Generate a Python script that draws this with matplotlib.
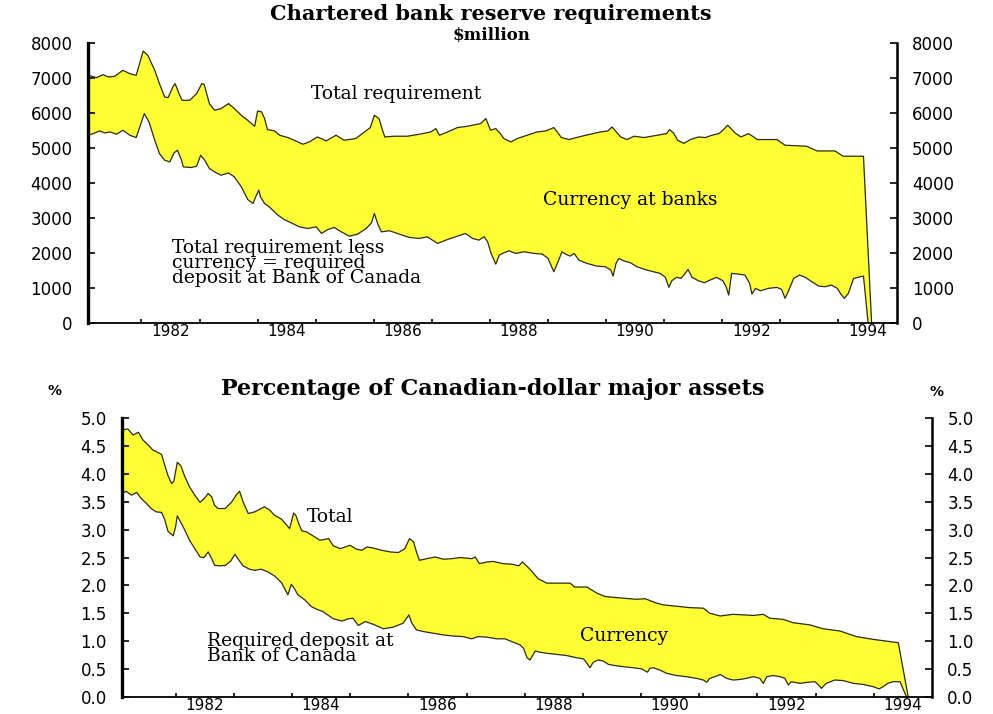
import numpy as np
import matplotlib.pyplot as plt
from matplotlib.ticker import FixedLocator, FixedFormatter, FormatStrFormatter

# ---- top panel: chartered bank reserve requirements, $million ----
total_dates = [1981.08, 1981.23, 1981.34, 1981.43, 1981.54, 1981.68, 1981.80, 1981.91,
               1982.03, 1982.11, 1982.23, 1982.31, 1982.40, 1982.46, 1982.54, 1982.58,
               1982.66, 1982.70, 1982.83, 1982.95, 1983.04, 1983.08, 1983.17, 1983.26,
               1983.37, 1983.50, 1983.60, 1983.72, 1983.83, 1983.95, 1984.00, 1984.07,
               1984.12, 1984.17, 1984.29, 1984.38, 1984.52, 1984.63, 1984.78, 1984.89,
               1985.03, 1985.18, 1985.35, 1985.49, 1985.69, 1985.84, 1985.94, 1986.01,
               1986.09, 1986.15, 1986.19, 1986.35, 1986.58, 1986.78, 1986.98, 1987.07,
               1987.13, 1987.27, 1987.44, 1987.61, 1987.84, 1987.93, 1988.01, 1988.10,
               1988.17, 1988.24, 1988.36, 1988.47, 1988.64, 1988.81, 1988.96, 1989.10,
               1989.17, 1989.23, 1989.36, 1989.53, 1989.70, 1989.90, 1990.03, 1990.10,
               1990.16, 1990.25, 1990.36, 1990.48, 1990.65, 1990.88, 1991.04, 1991.09,
               1991.16, 1991.23, 1991.34, 1991.45, 1991.59, 1991.71, 1991.82, 1991.94,
               1992.01, 1992.09, 1992.15, 1992.22, 1992.32, 1992.45, 1992.54, 1992.60,
               1992.94, 1993.08, 1993.45, 1993.63, 1993.94, 1994.08, 1994.43, 1994.57]
total_req = [7080, 7011, 7097, 7030, 7050, 7220, 7125, 7077,
             7771, 7648, 7220, 6840, 6457, 6440, 6743, 6840,
             6505, 6362, 6362, 6554, 6840, 6820, 6268, 6077,
             6125, 6268, 6125, 5934, 5791, 5620, 6057, 6030,
             5840, 5525, 5486, 5363, 5297, 5220, 5106, 5172,
             5314, 5200, 5363, 5220, 5268, 5457, 5582, 5934,
             5840, 5506, 5314, 5335, 5335, 5391, 5457, 5553,
             5363, 5457, 5582, 5620, 5697, 5840, 5506, 5553,
             5429, 5268, 5172, 5268, 5363, 5457, 5486, 5582,
             5429, 5297, 5240, 5314, 5382, 5457, 5486, 5600,
             5486, 5314, 5240, 5335, 5297, 5363, 5410, 5525,
             5429, 5220, 5130, 5240, 5314, 5297, 5363, 5410,
             5506, 5648, 5553, 5429, 5314, 5410, 5314, 5240,
             5240, 5077, 5049, 4914, 4914, 4763, 4763, 0]

deposit_dates = [1981.08, 1981.17, 1981.28, 1981.37, 1981.46, 1981.57, 1981.68, 1981.80,
                 1981.91, 1982.05, 1982.13, 1982.23, 1982.31, 1982.40, 1982.49, 1982.56,
                 1982.62, 1982.69, 1982.72, 1982.86, 1982.95, 1983.02, 1983.09, 1983.17,
                 1983.26, 1983.37, 1983.50, 1983.60, 1983.72, 1983.83, 1983.92, 1983.98,
                 1984.02, 1984.05, 1984.12, 1984.20, 1984.35, 1984.46, 1984.58, 1984.72,
                 1984.86, 1985.01, 1985.10, 1985.21, 1985.32, 1985.44, 1985.58, 1985.72,
                 1985.87, 1985.96, 1986.01, 1986.07, 1986.13, 1986.27, 1986.44, 1986.61,
                 1986.78, 1986.92, 1987.10, 1987.27, 1987.44, 1987.58, 1987.70, 1987.81,
                 1987.90, 1987.96, 1988.02, 1988.10, 1988.16, 1988.24, 1988.33, 1988.44,
                 1988.59, 1988.76, 1988.90, 1989.00, 1989.05, 1989.10, 1989.16, 1989.24,
                 1989.30, 1989.38, 1989.45, 1989.53, 1989.67, 1989.84, 1989.99, 1990.08,
                 1990.12, 1990.17, 1990.22, 1990.30, 1990.42, 1990.53, 1990.70, 1990.93,
                 1991.02, 1991.08, 1991.13, 1991.21, 1991.29, 1991.36, 1991.41, 1991.48,
                 1991.59, 1991.69, 1991.79, 1991.90, 1992.01, 1992.07, 1992.11, 1992.16,
                 1992.28, 1992.39, 1992.47, 1992.51, 1992.57, 1992.66, 1992.79, 1992.94,
                 1993.02, 1993.08, 1993.14, 1993.23, 1993.33, 1993.43, 1993.54, 1993.66,
                 1993.77, 1993.88, 1993.98, 1994.04, 1994.10, 1994.17, 1994.26, 1994.43,
                 1994.51]
deposit_req = [5360, 5410, 5486, 5429, 5457, 5391, 5506, 5363,
               5297, 5982, 5743, 5220, 4840, 4648, 4600, 4857,
               4934, 4648, 4457, 4440, 4477, 4791, 4648, 4411,
               4314, 4220, 4286, 4171, 3886, 3525, 3411, 3648,
               3791, 3600, 3411, 3314, 3077, 2950, 2857, 2743,
               2696, 2743, 2554, 2668, 2725, 2600, 2477, 2534,
               2696, 2857, 3125, 2820, 2600, 2630, 2534, 2440,
               2411, 2457, 2268, 2382, 2477, 2554, 2411, 2363,
               2457, 2314, 1982, 1677, 1934, 2000, 2057, 1982,
               2030, 1982, 1963, 1840, 1648, 1457, 1697, 2028,
               1963, 1906, 1982, 1791, 1697, 1620, 1600, 1506,
               1334, 1697, 1840, 1772, 1715, 1600, 1506, 1411,
               1297, 1011, 1200, 1297, 1268, 1411, 1525, 1297,
               1200, 1143, 1220, 1297, 1200, 1011, 791, 1411,
               1392, 1363, 1125, 820, 982, 915, 982, 1011,
               953, 697, 915, 1268, 1363, 1297, 1172, 1049,
               1030, 1077, 982, 820, 697, 840, 1268, 1334,
               0]

# ---- bottom panel: percentage of Canadian-dollar major assets ----
pct_total_dates = [1981.08, 1981.18, 1981.27, 1981.36, 1981.44, 1981.53, 1981.61, 1981.69,
                   1981.76, 1981.81, 1981.87, 1981.93, 1981.97, 1982.03, 1982.09, 1982.16,
                   1982.24, 1982.33, 1982.42, 1982.50, 1982.56, 1982.62, 1982.67, 1982.73,
                   1982.85, 1982.96, 1983.04, 1983.10, 1983.16, 1983.25, 1983.36, 1983.47,
                   1983.53, 1983.62, 1983.70, 1983.82, 1983.96, 1984.03, 1984.07, 1984.12,
                   1984.17, 1984.25, 1984.36, 1984.48, 1984.63, 1984.71, 1984.83, 1985.00,
                   1985.11, 1985.20, 1985.29, 1985.40, 1985.54, 1985.69, 1985.83, 1985.94,
                   1986.02, 1986.09, 1986.14, 1986.19, 1986.32, 1986.46, 1986.60, 1986.75,
                   1986.89, 1987.09, 1987.15, 1987.22, 1987.35, 1987.46, 1987.63, 1987.78,
                   1987.90, 1987.96, 1988.09, 1988.23, 1988.38, 1988.78, 1988.86, 1989.07,
                   1989.24, 1989.38, 1989.69, 1989.92, 1990.07, 1990.27, 1990.38, 1990.84,
                   1991.07, 1991.18, 1991.36, 1991.58, 1991.93, 1992.10, 1992.21, 1992.44,
                   1992.61, 1992.90, 1993.13, 1993.42, 1993.70, 1993.99, 1994.42, 1994.59]
pct_total = [4.79, 4.81, 4.70, 4.75, 4.61, 4.52, 4.43, 4.39,
             4.35, 4.17, 3.97, 3.83, 3.87, 4.21, 4.15, 3.95,
             3.77, 3.62, 3.49, 3.57, 3.65, 3.59, 3.44, 3.38,
             3.38, 3.49, 3.62, 3.69, 3.50, 3.29, 3.32, 3.38,
             3.41, 3.35, 3.26, 3.19, 3.02, 3.30, 3.25, 3.10,
             2.98, 2.96, 2.89, 2.81, 2.84, 2.71, 2.66, 2.72,
             2.65, 2.63, 2.69, 2.67, 2.63, 2.60, 2.59, 2.66,
             2.84, 2.78, 2.60, 2.45, 2.48, 2.51, 2.47, 2.48,
             2.50, 2.48, 2.51, 2.39, 2.42, 2.43, 2.39, 2.38,
             2.35, 2.42, 2.29, 2.12, 2.04, 2.04, 1.97, 1.97,
             1.86, 1.80, 1.77, 1.75, 1.76, 1.68, 1.65, 1.60,
             1.59, 1.50, 1.45, 1.48, 1.46, 1.48, 1.41, 1.39,
             1.33, 1.29, 1.22, 1.18, 1.08, 1.03, 0.97, 0.0]

pct_deposit_dates = [1981.08, 1981.15, 1981.24, 1981.33, 1981.41, 1981.50, 1981.58, 1981.67,
                     1981.76, 1981.81, 1981.87, 1981.96, 1982.00, 1982.03, 1982.08, 1982.16,
                     1982.24, 1982.33, 1982.42, 1982.49, 1982.56, 1982.62, 1982.67, 1982.76,
                     1982.86, 1982.95, 1983.02, 1983.07, 1983.16, 1983.27, 1983.36, 1983.47,
                     1983.59, 1983.70, 1983.82, 1983.93, 1983.99, 1984.05, 1984.10, 1984.22,
                     1984.33, 1984.45, 1984.53, 1984.60, 1984.71, 1984.86, 1984.97, 1985.05,
                     1985.14, 1985.26, 1985.40, 1985.57, 1985.74, 1985.91, 1986.01, 1986.06,
                     1986.14, 1986.26, 1986.43, 1986.60, 1986.77, 1986.94, 1987.09, 1987.20,
                     1987.35, 1987.52, 1987.66, 1987.80, 1987.92, 1987.98, 1988.04, 1988.09,
                     1988.18, 1988.26, 1988.38, 1988.55, 1988.72, 1988.89, 1989.01, 1989.07,
                     1989.12, 1989.18, 1989.26, 1989.35, 1989.44, 1989.55, 1989.69, 1989.87,
                     1990.01, 1990.11, 1990.15, 1990.21, 1990.32, 1990.44, 1990.61, 1990.78,
                     1990.95, 1991.07, 1991.13, 1991.18, 1991.27, 1991.36, 1991.47, 1991.58,
                     1991.70, 1991.81, 1991.93, 1992.04, 1992.10, 1992.16, 1992.27, 1992.39,
                     1992.47, 1992.53, 1992.58, 1992.73, 1992.87, 1992.99, 1993.04, 1993.10,
                     1993.18, 1993.33, 1993.47, 1993.65, 1993.82, 1993.99, 1994.09, 1994.16,
                     1994.24, 1994.33, 1994.45, 1994.56]
pct_deposit = [3.65, 3.69, 3.62, 3.67, 3.56, 3.47, 3.38, 3.32,
               3.31, 3.19, 2.97, 2.89, 3.05, 3.25, 3.15, 2.99,
               2.81, 2.66, 2.51, 2.50, 2.60, 2.48, 2.36, 2.35,
               2.36, 2.44, 2.56, 2.48, 2.35, 2.29, 2.27, 2.29,
               2.24, 2.17, 2.05, 1.83, 2.02, 1.93, 1.83, 1.74,
               1.62, 1.56, 1.53, 1.48, 1.40, 1.36, 1.40, 1.41,
               1.28, 1.35, 1.30, 1.22, 1.25, 1.32, 1.47, 1.32,
               1.20, 1.17, 1.14, 1.11, 1.09, 1.08, 1.04, 1.08,
               1.07, 1.04, 1.04, 0.98, 0.93, 0.87, 0.70, 0.66,
               0.82, 0.80, 0.78, 0.76, 0.74, 0.70, 0.68, 0.60,
               0.52, 0.62, 0.66, 0.64, 0.58, 0.56, 0.54, 0.52,
               0.50, 0.44, 0.51, 0.52, 0.48, 0.42, 0.38, 0.36,
               0.33, 0.30, 0.26, 0.33, 0.36, 0.40, 0.33, 0.30,
               0.31, 0.33, 0.36, 0.33, 0.24, 0.36, 0.38, 0.36,
               0.33, 0.21, 0.27, 0.24, 0.26, 0.27, 0.22, 0.15,
               0.24, 0.30, 0.29, 0.24, 0.22, 0.18, 0.14, 0.18,
               0.24, 0.27, 0.27, 0.0]

year_ticks = list(range(1982, 1995))
year_labels = ['1982', '1984', '1986', '1988', '1990', '1992', '1994']

FILL = '#ffff33'
EDGE = '#2b2b10'
SERIF = 'DejaVu Serif'
NOTE_SIZE = 13.5


def band(ax, ux, uy, lx, ly):
    # yellow area between total and required deposit, outlined
    px = np.concatenate([ux, lx[::-1]])
    py = np.concatenate([uy, ly[::-1]])
    ax.fill(px, py, color=FILL, lw=0, zorder=1)
    ax.plot(ux, uy, color=EDGE, lw=0.9, zorder=2)
    ax.plot(lx, ly, color=EDGE, lw=0.9, zorder=2)


def style_axis(ax, yticks, yfmt):
    ax.set_xlim(1981.08, 1995.0)
    ax.spines['top'].set_visible(False)
    ax.spines['left'].set_linewidth(2.4)
    ax.spines['right'].set_linewidth(1.8)
    ax.spines['bottom'].set_linewidth(1.3)
    ax.xaxis.set_major_locator(FixedLocator(year_ticks))
    ax.xaxis.set_major_formatter(FixedFormatter([''] * len(year_ticks)))
    mids = [int(y) + 0.5 for y in year_labels]
    ax.xaxis.set_minor_locator(FixedLocator(mids))
    ax.xaxis.set_minor_formatter(FixedFormatter(year_labels))
    ax.tick_params(axis='x', which='major', direction='in', length=3, width=1.2)
    ax.tick_params(axis='x', which='minor', length=0, pad=1, labelsize=11)
    ax.set_yticks(yticks)
    ax.yaxis.set_major_formatter(yfmt)
    ax.tick_params(axis='y', direction='in', length=5, width=1.2, labelsize=12,
                   left=True, right=True, labelleft=True, labelright=True, pad=11)


fig = plt.figure(figsize=(9.93, 7.14), dpi=100)

ax1 = fig.add_axes([0.0886, 0.548, 0.8143, 0.3917])
band(ax1, np.array(total_dates), np.array(total_req),
     np.array(deposit_dates), np.array(deposit_req))
ax1.set_ylim(0, 8000)
style_axis(ax1, range(0, 8001, 1000), FormatStrFormatter('%d'))

ax1.text(1986.39, 6534, 'Total requirement', family=SERIF, fontsize=NOTE_SIZE,
         ha='center', va='center')
ax1.text(1990.41, 3506, 'Currency at banks', family=SERIF, fontsize=NOTE_SIZE,
         ha='center', va='center')
ax1.text(1982.52, 2400, 'Total requirement less\ncurrency = required\ndeposit at Bank of Canada',
         family=SERIF, fontsize=NOTE_SIZE, ha='left', va='top', linespacing=0.8)

ax2 = fig.add_axes([0.1229, 0.0242, 0.8157, 0.3899])
band(ax2, np.array(pct_total_dates), np.array(pct_total),
     np.array(pct_deposit_dates), np.array(pct_deposit))
ax2.set_ylim(0, 5.0)
style_axis(ax2, np.arange(0, 5.01, 0.5), FormatStrFormatter('%.1f'))

ax2.text(1984.26, 3.23, 'Total', family=SERIF, fontsize=NOTE_SIZE, ha='left', va='center')
ax2.text(1989.71, 1.09, 'Currency', family=SERIF, fontsize=NOTE_SIZE,
         ha='center', va='center')
ax2.text(1982.54, 1.16, 'Required deposit at\nBank of Canada', family=SERIF,
         fontsize=NOTE_SIZE, ha='left', va='top', linespacing=0.8)

fig.text(0.494, 1 - 14 / 714, 'Chartered bank reserve requirements', family=SERIF,
         fontsize=15, fontweight='bold', ha='center', va='center')
fig.text(0.495, 1 - 35 / 714, '$million', family=SERIF, fontsize=12,
         fontweight='bold', ha='center', va='center')
fig.text(0.496, 1 - 389 / 714, 'Percentage of Canadian-dollar major assets', family=SERIF,
         fontsize=16, fontweight='bold', ha='center', va='center')
fig.text(55 / 993, 1 - 391 / 714, '%', fontsize=10, fontweight='bold',
         ha='center', va='center')
fig.text(937 / 993, 1 - 392 / 714, '%', fontsize=10, fontweight='bold',
         ha='center', va='center')

fig.savefig('out.png', dpi=100)
